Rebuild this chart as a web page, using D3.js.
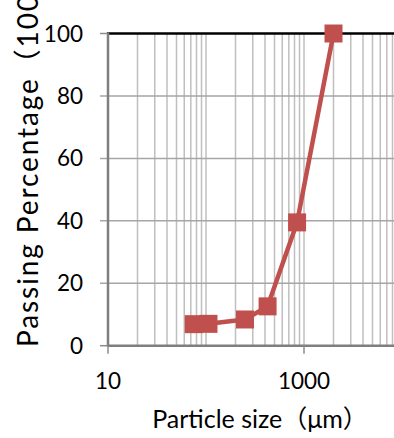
<!DOCTYPE html>
<html>
<head>
<meta charset="utf-8">
<script src="https://cdn.jsdelivr.net/npm/d3@7"></script>
<style>
  html, body { margin: 0; padding: 0; background: #fff; overflow: hidden; }
  svg { display: block; }
  text { font-family: Lato, "Open Sans", "Noto Sans CJK SC", sans-serif; fill: #000; }
</style>
</head>
<body>
<script>
// Sieve analysis: particle size (µm) vs. cumulative passing percentage
const sizes = [75, 106, 250, 425, 850, 2000];
const passing = [6.9, 7.0, 8.4, 12.6, 39.5, 100];
const yTicks = [0, 20, 40, 60, 80, 100];
const xTickLabels = [10, 1000];
const xTitle = "Particle size（μm）";
const yTitle = "Passing Percentage（100%）";

const W = 394, H = 438;
const svg = d3.select("body").append("svg").attr("width", W).attr("height", H);

const x = d3.scaleLog().domain([10, 10000]).range([108, 402]);
const y = d3.scaleLinear().domain([0, 100]).range([345.7, 33.5]);

// vertical log grid: 2..9 within each decade plus the decade lines
const minor = [];
for (let d = 10; d < 10000; d *= 10) {
  for (let k = 1; k <= 9; k++) if (d * k > 10) minor.push(d * k);
}
svg.append("g").selectAll("line").data(minor).join("line")
  .attr("x1", d => x(d)).attr("x2", d => x(d))
  .attr("y1", y(100)).attr("y2", y(0))
  .attr("stroke", "#bfbfbf").attr("stroke-width", 1.5);

// horizontal grid (extends left as tick marks)
svg.append("g").selectAll("line").data(yTicks.filter(v => v > 0 && v < 100)).join("line")
  .attr("x1", 100).attr("x2", W)
  .attr("y1", d => y(d)).attr("y2", d => y(d))
  .attr("stroke", "#a6a6a6").attr("stroke-width", 1.5);

// tick stubs at 0 and 100
svg.append("g").selectAll("line").data([0, 100]).join("line")
  .attr("x1", 100).attr("x2", 108)
  .attr("y1", d => y(d)).attr("y2", d => y(d))
  .attr("stroke", "#8c8c8c").attr("stroke-width", 1.5);

// top border
svg.append("line")
  .attr("x1", 107).attr("x2", W).attr("y1", y(100)).attr("y2", y(100))
  .attr("stroke", "#000").attr("stroke-width", 2.5);

// axis lines
svg.append("line")
  .attr("x1", x(10)).attr("x2", x(10)).attr("y1", y(100) - 1).attr("y2", y(0) + 1)
  .attr("stroke", "#7f7f7f").attr("stroke-width", 2.5);
svg.append("line")
  .attr("x1", x(10)).attr("x2", W).attr("y1", y(0)).attr("y2", y(0))
  .attr("stroke", "#7f7f7f").attr("stroke-width", 2.5);

// x tick marks
svg.append("g").selectAll("line").data(xTickLabels).join("line")
  .attr("x1", d => x(d)).attr("x2", d => x(d))
  .attr("y1", y(0)).attr("y2", y(0) + 8)
  .attr("stroke", "#8c8c8c").attr("stroke-width", 1.5);

// tick labels
svg.append("g").selectAll("text").data(yTicks).join("text")
  .attr("x", 83).attr("y", d => y(d)).attr("dy", "0.36em")
  .attr("text-anchor", "end").attr("font-size", 22.5)
  .text(d => d);
svg.append("g").selectAll("text").data(xTickLabels).join("text")
  .attr("x", d => x(d)).attr("y", 389)
  .attr("text-anchor", "middle").attr("font-size", 22.5)
  .text(d => d);

// axis titles
svg.append("text")
  .attr("x", 260).attr("y", 428)
  .attr("text-anchor", "middle").attr("font-size", 25)
  .text(xTitle);
svg.append("text")
  .attr("transform", "translate(38,347) rotate(-90)")
  .attr("text-anchor", "start").attr("font-size", 28)
  .attr("letter-spacing", 1.9)
  .text(yTitle);

// series
const pts = sizes.map((s, i) => [s, passing[i]]);
svg.append("path").datum(pts)
  .attr("fill", "none").attr("stroke", "#c0504d").attr("stroke-width", 4.5)
  .attr("stroke-linejoin", "round")
  .attr("d", d3.line().x(d => x(d[0])).y(d => y(d[1])));
const m = 18;
svg.append("g").selectAll("rect").data(pts).join("rect")
  .attr("x", d => x(d[0]) - m / 2).attr("y", d => y(d[1]) - m / 2)
  .attr("width", m).attr("height", m)
  .attr("fill", "#c0504d");
</script>
</body>
</html>
